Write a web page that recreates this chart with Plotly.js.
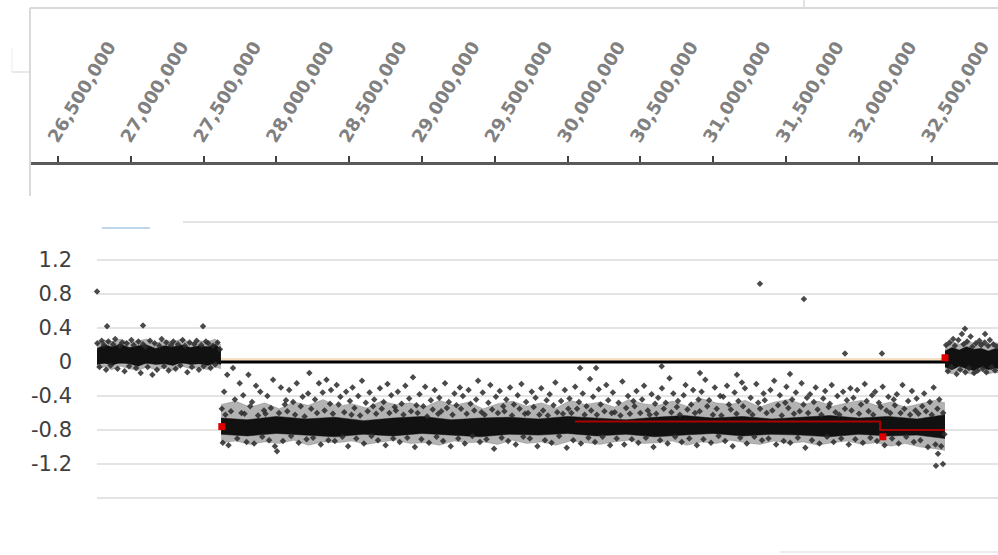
<!DOCTYPE html>
<html><head><meta charset="utf-8">
<script src="https://cdn.plot.ly/plotly-3.0.1.min.js"></script>
<style>html,body{margin:0;padding:0;background:#fff;}#chart{width:998px;height:555px;}</style>
</head><body><div id="chart"></div>
<script>
// ---------- DATA (positions in Mb, log2 ratio values) ----------
const tickMb = [26.5,27.0,27.5,28.0,28.5,29.0,29.5,30.0,30.5,31.0,31.5,32.0,32.5,33.0];
const tickLabels = ["26,500,000","27,000,000","27,500,000","28,000,000","28,500,000","29,000,000","29,500,000","30,000,000","30,500,000","31,000,000","31,500,000","32,000,000","32,500,000","33,000,000"];
const yTickVals = [1.2,0.8,0.4,0,-0.4,-0.8,-1.2];
const yTickText = ["1.2","0.8","0.4","0","-0.4","-0.8","-1.2"];
const gridVals = [1.2,0.8,0.4,-0.4,-0.8,-1.2,-1.6];

// dense cores of the three segments (upper / lower envelopes)
const leftCoreX  = [26.768,26.82,26.87,26.93,26.99,27.05,27.11,27.17,27.23,27.29,27.35,27.41,27.47,27.53,27.58,27.619];
const leftCoreUp = [0.16,0.20,0.18,0.21,0.17,0.19,0.20,0.16,0.19,0.18,0.20,0.17,0.19,0.18,0.21,0.15];
const leftCoreLo = [-0.03,-0.01,-0.04,0.00,-0.02,-0.05,-0.01,-0.03,-0.02,-0.04,0.00,-0.03,-0.02,-0.04,-0.01,-0.03];
const leftHaloUp = [0.22,0.26,0.24,0.27,0.23,0.25,0.27,0.22,0.26,0.24,0.27,0.23,0.25,0.24,0.27,0.20];
const leftHaloLo = [-0.07,-0.06,-0.09,-0.05,-0.08,-0.10,-0.06,-0.09,-0.07,-0.10,-0.05,-0.08,-0.07,-0.09,-0.06,-0.08];

const midCoreX  = [27.620,27.80,28.00,28.20,28.40,28.60,28.80,29.00,29.20,29.40,29.60,29.80,30.00,30.20,30.40,30.60,30.80,31.00,31.20,31.40,31.60,31.80,32.00,32.20,32.40,32.592];
const midCoreUp = [-0.66,-0.68,-0.64,-0.67,-0.65,-0.69,-0.66,-0.64,-0.68,-0.66,-0.65,-0.67,-0.64,-0.66,-0.68,-0.65,-0.63,-0.66,-0.64,-0.67,-0.65,-0.63,-0.66,-0.64,-0.67,-0.62];
const midCoreLo = [-0.85,-0.87,-0.84,-0.86,-0.88,-0.85,-0.87,-0.84,-0.86,-0.88,-0.85,-0.86,-0.84,-0.87,-0.85,-0.88,-0.86,-0.84,-0.87,-0.85,-0.86,-0.88,-0.85,-0.87,-0.86,-0.90];
const midHaloX = [27.62,27.72,27.82,27.92,28.02,28.12,28.22,28.32,28.42,28.52,28.62,28.72,28.82,28.92,29.02,29.12,29.22,29.32,29.42,29.52,29.62,29.72,29.82,29.92,30.02,30.12,30.22,30.32,30.42,30.52,30.62,30.72,30.82,30.92,31.02,31.12,31.22,31.32,31.42,31.52,31.62,31.72,31.82,31.92,32.02,32.12,32.22,32.32,32.42,32.52,32.592];
const midHaloUp = [-0.50,-0.46,-0.53,-0.48,-0.55,-0.47,-0.51,-0.44,-0.52,-0.49,-0.54,-0.46,-0.50,-0.48,-0.53,-0.45,-0.51,-0.47,-0.55,-0.49,-0.46,-0.52,-0.48,-0.54,-0.45,-0.50,-0.47,-0.53,-0.44,-0.49,-0.51,-0.46,-0.52,-0.43,-0.48,-0.50,-0.45,-0.53,-0.47,-0.44,-0.50,-0.46,-0.52,-0.48,-0.45,-0.51,-0.47,-0.53,-0.49,-0.45,-0.48];
const midHaloLo = [-0.95,-0.93,-0.97,-0.94,-0.96,-0.92,-0.98,-0.94,-0.95,-0.93,-0.97,-0.94,-0.92,-0.96,-0.95,-0.98,-0.93,-0.95,-0.94,-0.97,-0.92,-0.96,-0.94,-0.98,-0.93,-0.95,-0.97,-0.94,-0.92,-0.96,-0.95,-0.93,-0.98,-0.94,-0.96,-0.92,-0.95,-0.97,-0.93,-0.96,-0.94,-0.98,-0.95,-0.93,-0.97,-0.95,-0.99,-0.96,-1.00,-1.02,-1.04];

const rightCoreX  = [32.592,32.64,32.69,32.74,32.79,32.84,32.89,32.94,32.96];
const rightCoreUp = [0.13,0.17,0.14,0.18,0.15,0.16,0.13,0.16,0.15];
const rightCoreLo = [-0.06,-0.09,-0.05,-0.08,-0.10,-0.06,-0.09,-0.07,-0.08];
const rightHaloUp = [0.19,0.24,0.21,0.25,0.22,0.23,0.20,0.23,0.22];
const rightHaloLo = [-0.11,-0.14,-0.10,-0.13,-0.15,-0.11,-0.14,-0.12,-0.13];

// scattered probes around the cores
const leftPtX = [26.770,26.785,26.800,26.815,26.830,26.846,26.862,26.878,26.893,26.909,26.925,26.941,26.957,26.972,26.988,27.004,27.020,27.036,27.052,27.068,27.084,27.100,27.116,27.132,27.148,27.164,27.180,27.196,27.212,27.228,27.244,27.260,27.276,27.292,27.308,27.324,27.340,27.356,27.372,27.388,27.404,27.420,27.436,27.452,27.468,27.484,27.500,27.516,27.532,27.548,27.564,27.580,27.596,27.612];
const leftPtY = [0.22,-0.06,0.25,0.20,-0.09,0.24,-0.04,0.21,0.27,-0.08,0.19,0.23,-0.11,0.22,-0.05,0.26,0.20,-0.07,0.24,-0.13,0.21,0.18,-0.06,0.25,-0.15,0.22,-0.09,0.19,0.27,-0.05,0.23,-0.10,0.20,0.24,-0.08,0.21,-0.04,0.26,0.19,-0.12,0.23,-0.06,0.21,0.25,-0.09,0.20,-0.05,0.24,0.22,-0.07,0.19,-0.03,0.23,0.15];
const leftOutX = [26.768,26.837,27.084,27.496];
const leftOutY = [0.83,0.42,0.43,0.42];

const midPtX = [
27.625,27.632,27.641,27.650,27.662,27.671,27.688,27.702,27.715,27.731,27.748,27.760,
27.772,27.781,27.795,27.808,27.820,27.833,27.847,27.860,27.874,27.889,27.903,27.915,
27.925,27.938,27.950,27.962,27.977,27.990,28.004,28.018,28.031,28.045,28.058,28.066,
28.075,28.088,28.101,28.115,28.128,28.140,28.153,28.167,28.180,28.194,28.207,28.218,
28.226,28.239,28.252,28.265,28.279,28.292,28.305,28.318,28.331,28.344,28.357,28.368,
28.375,28.388,28.401,28.414,28.427,28.440,28.453,28.466,28.479,28.492,28.505,28.516,
28.523,28.536,28.549,28.562,28.575,28.588,28.601,28.614,28.627,28.640,28.653,28.664,
28.672,28.685,28.698,28.711,28.724,28.737,28.750,28.763,28.776,28.789,28.802,28.813,
28.821,28.834,28.847,28.860,28.873,28.886,28.899,28.912,28.925,28.938,28.951,28.962,
28.970,28.983,28.996,29.009,29.022,29.035,29.048,29.061,29.074,29.087,29.100,29.111,
29.119,29.132,29.145,29.158,29.171,29.184,29.197,29.210,29.223,29.236,29.249,29.260,
29.268,29.281,29.294,29.307,29.320,29.333,29.346,29.359,29.372,29.385,29.398,29.409,
29.417,29.430,29.443,29.456,29.469,29.482,29.495,29.508,29.521,29.534,29.547,29.558,
29.566,29.579,29.592,29.605,29.618,29.631,29.644,29.657,29.670,29.683,29.696,29.707,
29.715,29.728,29.741,29.754,29.767,29.780,29.793,29.806,29.819,29.832,29.845,29.856,
29.864,29.877,29.890,29.903,29.916,29.929,29.942,29.955,29.968,29.981,29.994,30.005,
30.013,30.026,30.039,30.052,30.065,30.078,30.091,30.104,30.117,30.130,30.143,30.154,
30.162,30.175,30.188,30.201,30.214,30.227,30.240,30.253,30.266,30.279,30.292,30.303,
30.311,30.324,30.337,30.350,30.363,30.376,30.389,30.402,30.415,30.428,30.441,30.452,
30.460,30.473,30.486,30.499,30.512,30.525,30.538,30.551,30.564,30.577,30.590,30.601,
30.609,30.622,30.635,30.648,30.661,30.674,30.687,30.700,30.713,30.726,30.739,30.750,
30.758,30.771,30.784,30.797,30.810,30.823,30.836,30.849,30.862,30.875,30.888,30.899,
30.907,30.920,30.933,30.946,30.959,30.972,30.985,30.998,31.011,31.024,31.037,31.048,
31.056,31.069,31.082,31.095,31.108,31.121,31.134,31.147,31.160,31.173,31.186,31.197,
31.205,31.218,31.231,31.244,31.257,31.270,31.283,31.296,31.309,31.322,31.335,31.346,
31.354,31.367,31.380,31.393,31.406,31.419,31.432,31.445,31.458,31.471,31.484,31.495,
31.503,31.516,31.529,31.542,31.555,31.568,31.581,31.594,31.607,31.620,31.633,31.644,
31.652,31.665,31.678,31.691,31.704,31.717,31.730,31.743,31.756,31.769,31.782,31.793,
31.801,31.814,31.827,31.840,31.853,31.866,31.879,31.892,31.905,31.918,31.931,31.942,
31.950,31.963,31.976,31.989,32.002,32.015,32.028,32.041,32.054,32.067,32.080,32.091,
32.099,32.112,32.125,32.138,32.151,32.164,32.177,32.190,32.203,32.216,32.229,32.240,
32.248,32.261,32.274,32.287,32.300,32.313,32.326,32.339,32.352,32.365,32.378,32.389,
32.397,32.410,32.423,32.436,32.449,32.462,32.475,32.488,32.501,32.514,32.527,32.540,
32.553,32.566,32.579,32.588];
const midPtY = [
-0.55,-0.95,-0.35,-0.62,-0.15,-0.98,-0.58,-0.07,-0.44,-0.90,-0.25,-0.60,
-0.39,-0.61,-0.94,-0.15,-0.52,-0.47,-0.96,-0.28,-0.63,-0.35,-0.88,-0.57,
-0.61,-0.40,-0.92,-0.54,-0.21,-0.99,-1.05,-0.60,-0.30,-0.93,-0.50,-0.45,
-0.58,-0.33,-0.87,-0.47,-0.62,-0.25,-0.95,-0.52,-0.41,-0.64,-0.91,-0.37,
-0.13,-0.55,-0.89,-0.44,-0.60,-0.25,-0.97,-0.36,-0.57,-0.21,-0.92,-0.49,
-0.33,-0.61,-0.93,-0.27,-0.50,-0.41,-0.88,-0.59,-0.35,-0.99,-0.46,-0.62,
-0.30,-0.54,-0.90,-0.40,-0.63,-0.22,-0.96,-0.48,-0.58,-0.36,-0.87,-0.52,
-0.44,-0.61,-0.92,-0.31,-0.55,-0.47,-0.98,-0.26,-0.60,-0.39,-0.90,-0.53,
-0.57,-0.35,-0.94,-0.49,-0.62,-0.28,-0.89,-0.43,-0.58,-0.18,-1.00,-0.51,
-0.60,-0.38,-0.91,-0.52,-0.29,-0.64,-0.95,-0.45,-0.56,-0.33,-0.88,-0.61,
-0.42,-0.58,-0.93,-0.25,-0.54,-0.47,-0.99,-0.62,-0.37,-0.51,-0.90,-0.30,
-0.55,-0.40,-0.96,-0.61,-0.33,-0.49,-0.87,-0.57,-0.44,-0.22,-0.94,-0.59,
-0.36,-0.62,-0.91,-0.48,-0.27,-0.56,-1.02,-0.41,-0.60,-0.34,-0.89,-0.52,
-0.58,-0.44,-0.93,-0.30,-0.63,-0.50,-0.97,-0.39,-0.55,-0.26,-0.88,-0.61,
-0.47,-0.60,-0.90,-0.35,-0.53,-0.42,-0.99,-0.62,-0.31,-0.57,-0.92,-0.45,
-0.63,-0.38,-0.95,-0.51,-0.24,-0.59,-0.87,-0.46,-0.61,-0.33,-1.01,-0.55,
-0.43,-0.60,-0.92,-0.29,-0.55,-0.47,-0.96,-0.37,-0.62,-0.52,-0.89,-0.20,
-0.57,-0.41,-0.94,-0.62,-0.32,-0.50,-0.88,-0.58,-0.27,-0.45,-0.98,-0.60,
-0.36,-0.59,-0.90,-0.48,-0.63,-0.23,-0.97,-0.54,-0.40,-0.61,-0.91,-0.46,
-0.52,-0.34,-0.95,-0.60,-0.44,-0.28,-0.89,-0.57,-0.62,-0.38,-1.00,-0.49,
-0.61,-0.42,-0.92,-0.31,-0.55,-0.48,-0.96,-0.19,-0.59,-0.37,-0.88,-0.53,
-0.46,-0.62,-0.94,-0.39,-0.27,-0.56,-0.90,-0.50,-0.33,-0.60,-0.98,-0.44,
-0.58,-0.35,-0.91,-0.21,-0.52,-0.45,-0.95,-0.62,-0.30,-0.55,-0.87,-0.40,
-0.63,-0.41,-0.93,-0.28,-0.50,-0.56,-0.99,-0.36,-0.61,-0.46,-0.89,-0.24,
-0.52,-0.31,-0.96,-0.58,-0.42,-0.62,-0.88,-0.26,-0.48,-0.55,-0.92,-0.37,
-0.45,-0.60,-0.90,-0.33,-0.57,-0.22,-0.97,-0.51,-0.39,-0.63,-0.93,-0.48,
-0.29,-0.54,-0.95,-0.44,-0.61,-0.36,-0.89,-0.58,-0.25,-0.50,-1.01,-0.42,
-0.60,-0.38,-0.92,-0.47,-0.30,-0.56,-0.96,-0.62,-0.43,-0.34,-0.88,-0.53,
-0.49,-0.27,-0.94,-0.59,-0.40,-0.62,-0.90,-0.35,-0.55,-0.45,-0.97,-0.31,
-0.57,-0.42,-0.91,-0.33,-0.61,-0.50,-0.95,-0.26,-0.46,-0.58,-0.89,-0.39,
-0.62,-0.35,-0.93,-0.48,-0.53,-0.29,-0.98,-0.57,-0.41,-0.60,-0.90,-0.44,
-0.51,-0.38,-0.96,-0.60,-0.27,-0.55,-0.88,-0.46,-0.62,-0.34,-0.94,-0.57,
-0.43,-0.61,-0.92,-0.52,-0.37,-0.58,-1.00,-0.47,-0.62,-0.30,-0.97,-0.55,
-0.44,-0.99,-0.60,-0.85];
const midOutX = [30.086,30.196,30.646,30.909,31.163,31.527,31.321,31.623,31.905,32.159,32.530,32.578,32.544];
const midOutY = [-0.07,-0.07,-0.05,-0.13,-0.15,-0.14,0.92,0.74,0.10,0.10,-1.22,-1.20,-1.08];

const rightPtX = [32.600,32.612,32.624,32.636,32.648,32.660,32.672,32.684,32.696,32.708,32.720,32.732,32.744,32.756,32.768,32.780,32.792,32.804,32.816,32.828,32.840,32.852,32.864,32.876,32.888,32.900,32.912,32.924,32.936,32.948];
const rightPtY = [0.20,-0.11,0.23,-0.06,0.27,0.19,-0.14,0.26,-0.09,0.33,0.21,-0.12,0.24,-0.07,0.30,0.18,-0.13,0.22,-0.10,0.25,0.20,-0.08,0.23,-0.12,0.19,0.26,-0.06,0.21,-0.10,0.18];
const rightOutX = [32.729,32.867];
const rightOutY = [0.39,0.33];

// segment mean (red) and baselines
const segMeanX = [30.05,32.146,32.146,32.592];
const segMeanY = [-0.70,-0.70,-0.80,-0.80];
const segMarkX = [27.625,32.165,32.592];
const segMarkY = [-0.76,-0.88,0.05];
const baseX = [26.768,32.592];
const baseY = [0,0];
const refY = [0.03,0.03];

// ---------- BUILD ----------
const W = 998, H = 555;
const px2mb = p => 26.5 + (p - 58) / 145.6;   // pixel calibration of the axis
const bp = a => a.map(v => v * 1e6);
const yPx = p => 1 - p / H;
const y0px = 362, unitPx = 85;
const yTop = (y0px - 200) / unitPx, yBot = (y0px - 520) / unitPx;

const dot = {color:'#2a2a2a', size:5, opacity:0.85, symbol:'diamond'};
const traces = [];
traces.push({x:bp(baseX), y:refY, mode:'lines', line:{color:'#f5e0c4', width:3}, hoverinfo:'skip'});
traces.push({x:bp(baseX), y:baseY, mode:'lines', line:{color:'#000', width:3}, hoverinfo:'skip'});
function band(x, lo, up, col){
  traces.push({x:bp(x), y:lo, mode:'lines', line:{color:col, width:0.5}, hoverinfo:'skip'});
  traces.push({x:bp(x), y:up, mode:'lines', line:{color:col, width:0.5}, fill:'tonexty', fillcolor:col, hoverinfo:'skip'});
}
const haloCol = 'rgba(20,20,20,0.32)';
band(leftCoreX, leftHaloLo, leftHaloUp, haloCol);
band(midHaloX, midHaloLo, midHaloUp, haloCol);
band(rightCoreX, rightHaloLo, rightHaloUp, haloCol);
band(leftCoreX, leftCoreLo, leftCoreUp, '#111');
band(midCoreX, midCoreLo, midCoreUp, '#111');
band(rightCoreX, rightCoreLo, rightCoreUp, '#111');
[[leftPtX,leftPtY],[leftOutX,leftOutY],[midPtX,midPtY],[midOutX,midOutY],[rightPtX,rightPtY],[rightOutX,rightOutY]].forEach(([x,y])=>{
  traces.push({x:bp(x), y:y, mode:'markers', marker:dot, hoverinfo:'skip', cliponaxis:false});
});
traces.push({x:bp(segMeanX), y:segMeanY, mode:'lines', line:{color:'#c00000', width:2}, opacity:0.85, hoverinfo:'skip'});
traces.push({x:bp(segMarkX), y:segMarkY, mode:'markers', marker:{color:'#e00000', size:7, symbol:'square'}, hoverinfo:'skip'});
// top axis carrier (invisible)
traces.push({x:[px2mb(30)*1e6], y:[0], xaxis:'x2', yaxis:'y2', mode:'markers', marker:{opacity:0}, hoverinfo:'skip'});

const shapes = [];
gridVals.forEach(v => shapes.push({type:'line', layer:'below', xref:'paper', yref:'y', x0:97/W, x1:1, y0:v, y1:v, line:{color:'#e4e4e4', width:2}}));
shapes.push({type:'line', xref:'paper', yref:'paper', x0:183/W, x1:1, y0:yPx(222), y1:yPx(222), line:{color:'#e4e4e4', width:2}});
shapes.push({type:'line', xref:'paper', yref:'paper', x0:102/W, x1:150/W, y0:yPx(228), y1:yPx(228), line:{color:'#bdd7ee', width:2}});
// frame of the top axis panel
shapes.push({type:'line', xref:'paper', yref:'paper', x0:30/W, x1:1, y0:yPx(8), y1:yPx(8), line:{color:'#d9d9d9', width:2}});
shapes.push({type:'line', xref:'paper', yref:'paper', x0:30/W, x1:30/W, y0:yPx(8), y1:yPx(196), line:{color:'#d9d9d9', width:2}});
shapes.push({type:'line', xref:'paper', yref:'paper', x0:804/W, x1:804/W, y0:1, y1:yPx(8), line:{color:'#d9d9d9', width:1.5}});
shapes.push({type:'line', xref:'paper', yref:'paper', x0:12/W, x1:29/W, y0:yPx(72), y1:yPx(72), line:{color:'#e0e0e0', width:1.5}});
shapes.push({type:'line', xref:'paper', yref:'paper', x0:12/W, x1:12/W, y0:yPx(48), y1:yPx(72), line:{color:'#ececec', width:1}});
shapes.push({type:'line', xref:'paper', yref:'paper', x0:780/W, x1:1, y0:yPx(552), y1:yPx(552), line:{color:'#e6e6e6', width:1.5}});

const layout = {
  width:W, height:H, margin:{l:0,r:0,t:0,b:0}, showlegend:false,
  paper_bgcolor:'#fff', plot_bgcolor:'rgba(0,0,0,0)',
  xaxis:{domain:[0,1], range:[px2mb(0)*1e6, px2mb(W)*1e6], visible:false, fixedrange:true},
  yaxis:{domain:[1-520/H, 1-200/H], range:[yBot, yTop], anchor:'free', position:97/W,
         showgrid:false, zeroline:false, showline:false, ticks:'',
         tickvals:yTickVals, ticktext:yTickText, ticklabelstandoff:25,
         tickfont:{family:'DejaVu Sans', size:21, color:'#404040'}},
  xaxis2:{domain:[30/W,1], range:[px2mb(30)*1e6, px2mb(W)*1e6], anchor:'y2', side:'top',
          showline:true, linecolor:'#5a5a5a', linewidth:3, showgrid:false, zeroline:false,
          ticks:'outside', ticklen:6, tickwidth:2, tickcolor:'#404040',
          tickvals:bp(tickMb), ticktext:tickLabels, tickangle:-59, ticklabelshift:-8,
          tickfont:{family:'DejaVu Sans', size:18, color:'#808080', weight:'bold'}},
  yaxis2:{domain:[1-183/H, 1-164.5/H], visible:false, range:[0,1]},
  shapes:shapes
};
Plotly.newPlot('chart', traces, layout, {staticPlot:true, displayModeBar:false});
</script></body></html>
